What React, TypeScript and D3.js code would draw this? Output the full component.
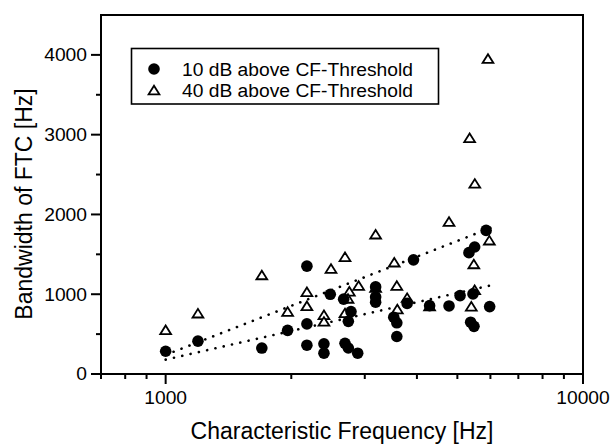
import React from "react";
import * as d3 from "d3";

// ---- data ----
const cf10: number[] = [1000, 1195, 1700, 1960, 2180, 2180, 2180, 2480, 2670, 2780, 2740, 2395, 2395, 2690, 2740, 2885, 3185, 3185, 3185, 3925, 3790, 3520, 3580, 3580, 4290, 4775, 5860, 5500, 5330, 5450, 5075, 5975, 5380, 5480];
const bw10: number[] = [285, 412, 325, 547, 1352, 628, 361, 999, 938, 783, 660, 378, 261, 384, 326, 261, 1092, 966, 900, 1431, 885, 712, 642, 470, 857, 853, 1800, 1592, 1521, 1004, 983, 845, 649, 597];

const cf40: number[] = [1000, 1195, 1700, 1960, 2180, 2180, 2490, 2690, 2755, 2900, 2735, 2690, 2395, 2395, 3185, 3185, 3530, 3580, 3790, 3590, 4290, 4775, 5920, 5350, 5505, 5965, 5475, 5500, 5400];
const bw40: number[] = [547, 756, 1235, 776, 1024, 848, 1316, 1463, 1030, 1102, 941, 760, 736, 653, 1746, 1078, 1395, 1102, 951, 808, 845, 1905, 3947, 2954, 2383, 1671, 1373, 1050, 843];

const fit10: [number, number][] = [[1000, 180], [6000, 1110]];
const fit40: [number, number][] = [[1000, 240], [6000, 1830]];

const xMajorTicks: number[] = [1000, 10000];
const xMinorTicks: number[] = [700, 800, 900, 2000, 3000, 4000, 5000, 6000, 7000, 8000, 9000];
const yMajorTicks: number[] = [0, 1000, 2000, 3000, 4000];
const yMinorTicks: number[] = [500, 1500, 2500, 3500];

const legendLabels: string[] = ["10 dB above CF-Threshold", "40 dB above CF-Threshold"];
const xTitle = "Characteristic Frequency [Hz]";
const yTitle = "Bandwidth of FTC [Hz]";

// ---- layout ----
const W = 612, H = 444;
const L = 101, R = 583, T = 15, B = 374;
const font = "'Liberation Sans', Arial, Helvetica, sans-serif";

export default function App() {
  const x = d3.scaleLog().domain([700, 10000]).range([L, R]);
  const y = d3.scaleLinear().domain([0, 4500]).range([B, T]);
  const line = d3.line<[number, number]>().x(d => x(d[0])).y(d => y(d[1]));

  const tri = (cx: number, cy: number) =>
    `M${cx - 5.4},${cy + 3.8}L${cx + 5.4},${cy + 3.8}L${cx},${cy - 4.8}Z`;

  const digitW = 10.7;

  return (
    <svg width={W} height={H} style={{ position: "absolute", left: 0, top: 0, background: "#fff" }}>
      <rect x={0} y={0} width={W} height={H} fill="#fff" />
      {/* frame */}
      <rect x={L} y={T} width={R - L} height={B - T} fill="none" stroke="#000" strokeWidth={2} />

      {/* y ticks */}
      {yMajorTicks.map(v => (
        <g key={"ym" + v}>
          <line x1={L - 10} x2={L} y1={y(v)} y2={y(v)} stroke="#000" strokeWidth={2} />
          <text x={87} y={y(v) + 6.3} textAnchor="end" fontFamily={font} fontSize={18}
            textLength={String(v).length * digitW} lengthAdjust="spacingAndGlyphs">{v}</text>
        </g>
      ))}
      {yMinorTicks.map(v => (
        <line key={"yn" + v} x1={L - 5} x2={L} y1={y(v)} y2={y(v)} stroke="#000" strokeWidth={2} />
      ))}

      {/* x ticks */}
      {xMajorTicks.map(v => (
        <g key={"xm" + v}>
          <line x1={x(v)} x2={x(v)} y1={B} y2={B + 10} stroke="#000" strokeWidth={2} />
          <text x={x(v)} y={404} textAnchor="middle" fontFamily={font} fontSize={18}
            textLength={String(v).length * digitW} lengthAdjust="spacingAndGlyphs">{v}</text>
        </g>
      ))}
      {xMinorTicks.map(v => (
        <line key={"xn" + v} x1={x(v)} x2={x(v)} y1={B} y2={B + 5} stroke="#000" strokeWidth={2} />
      ))}

      {/* axis titles */}
      <text x={(L + R) / 2} y={439} textAnchor="middle" fontFamily={font} fontSize={23}>{xTitle}</text>
      <text transform={`translate(32,204) rotate(-90)`} textAnchor="middle" fontFamily={font} fontSize={23}>{yTitle}</text>

      {/* fit lines */}
      {[fit10, fit40].map((f, i) => (
        <path key={"fit" + i} d={line(f) || ""} fill="none" stroke="#000" strokeWidth={2.6}
          strokeDasharray="0.1 8.4" strokeLinecap="round" />
      ))}

      {/* 40 dB triangles */}
      {cf40.map((c, i) => (
        <path key={"t" + i} d={tri(x(c), y(bw40[i]))} fill="#fff" stroke="#000" strokeWidth={1.8} strokeLinejoin="miter" />
      ))}
      {/* 10 dB circles */}
      {cf10.map((c, i) => (
        <circle key={"c" + i} cx={x(c)} cy={y(bw10[i])} r={5.8} fill="#000" />
      ))}

      {/* legend */}
      <rect x={131.5} y={48.5} width={307} height={55.5} fill="#fff" stroke="#000" strokeWidth={1.6} />
      <circle cx={154} cy={69} r={5.8} fill="#000" />
      <path d={tri(154, 90.5)} fill="#fff" stroke="#000" strokeWidth={1.8} />
      {legendLabels.map((s, i) => (
        <text key={"lg" + i} x={182} y={75.5 + i * 21} fontFamily={font} fontSize={18}
          textLength={231} lengthAdjust="spacingAndGlyphs">{s}</text>
      ))}
    </svg>
  );
}
